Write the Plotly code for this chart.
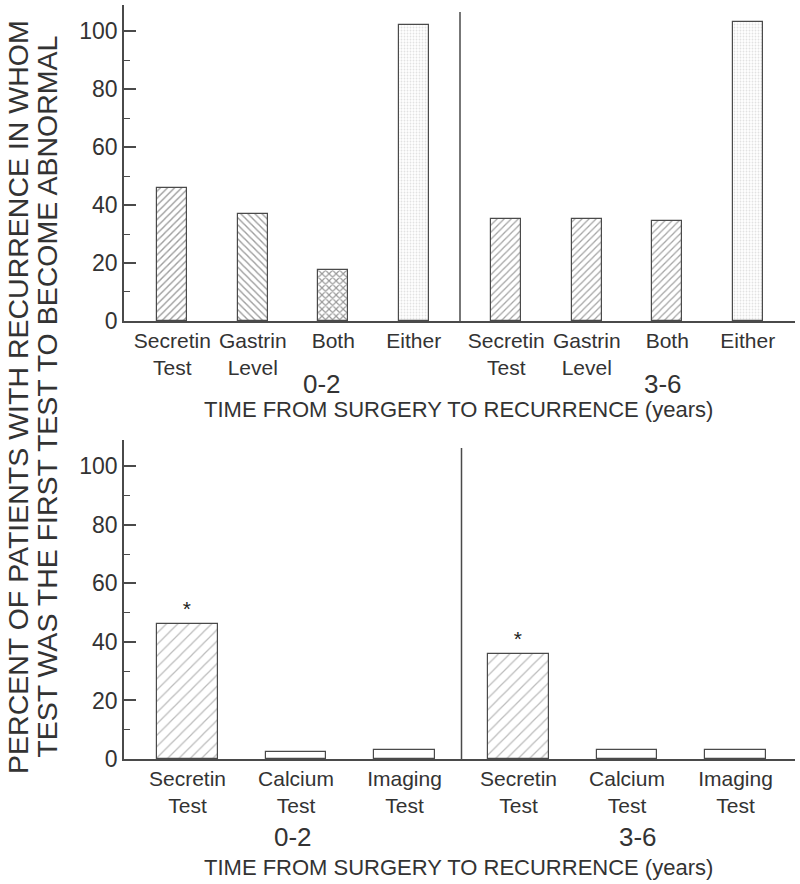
import plotly.graph_objects as go

# ---- data ----
groups = ["0-2", "3-6"]

top_categories = ["Secretin<br>Test", "Gastrin<br>Level", "Both", "Either"]
top_0_2 = [46, 37, 17.5, 102]
top_3_6 = [35, 35, 34.5, 103]
top_patterns = ["/", "\\", "x", "."]
top_patterns_3_6 = ["/", "/", "/", "."]

bottom_categories = ["Secretin<br>Test", "Calcium<br>Test", "Imaging<br>Test"]
bottom_0_2 = [46, 2.5, 3]
bottom_3_6 = [36, 3, 3]
bottom_marks = ["*", "", ""]
bottom_patterns = ["/", "", ""]

X_TITLE = "TIME FROM SURGERY TO RECURRENCE (years)"
Y_TITLE_1 = "PERCENT OF PATIENTS WITH RECURRENCE IN WHOM"
Y_TITLE_2 = "TEST WAS THE FIRST TEST TO BECOME ABNORMAL"

FONT = "Liberation Sans, Arial, sans-serif"
INK = "#333333"
LINE = "#4a4a4a"


def positions(n, gap):
    left = [i for i in range(n)]
    right = [i + n + gap for i in range(n)]
    return left, right


top_left_x, top_right_x = positions(len(top_categories), 0.15)
bot_left_x, bot_right_x = positions(len(bottom_categories), 0.05)

fig = go.Figure()

# top panel
fig.add_trace(go.Bar(
    x=top_left_x + top_right_x,
    y=top_0_2 + top_3_6,
    width=0.37,
    marker=dict(
        color="white",
        line=dict(color=LINE, width=1.2),
        pattern=dict(
            shape=top_patterns + top_patterns_3_6,
            fgcolor=["#3a3a3a", "#3a3a3a", "#333", "#c4c4c4"] + ["#4a4a4a", "#4a4a4a", "#4a4a4a", "#c4c4c4"],
            size=[5, 5, 5, 3, 5, 5, 5, 3],
            solidity=[0.28, 0.28, 0.42, 0.3, 0.25, 0.25, 0.25, 0.3],
        ),
    ),
    showlegend=False,
    xaxis="x", yaxis="y",
))

# bottom panel
fig.add_trace(go.Bar(
    x=bot_left_x + bot_right_x,
    y=bottom_0_2 + bottom_3_6,
    width=0.56,
    text=bottom_marks + bottom_marks,
    textposition="outside",
    textfont=dict(size=21, color="#222", family=FONT),
    cliponaxis=False,
    marker=dict(
        color="white",
        line=dict(color=LINE, width=1.2),
        pattern=dict(
            shape=bottom_patterns + bottom_patterns,
            fgcolor="#777",
            size=8,
            solidity=0.15,
        ),
    ),
    showlegend=False,
    xaxis="x2", yaxis="y2",
))

yaxis_style = dict(
    range=[0, 109],
    automargin=False,
    showline=True, linecolor=LINE, linewidth=1.5,
    ticks="inside", ticklen=12, tickwidth=1.5, tickcolor=LINE,
    dtick=20,
    minor=dict(ticks="inside", ticklen=6, tickwidth=1.2, tickcolor=LINE, dtick=10),
    showgrid=False, zeroline=False,
    tickfont=dict(size=23, color=INK, family=FONT),
)
xaxis_style = dict(
    automargin=False,
    showline=True, linecolor=LINE, linewidth=1.5,
    ticks="", showgrid=False, zeroline=False,
    tickfont=dict(size=21, color=INK, family=FONT),
)

fig.update_layout(
    width=800, height=884,
    margin=dict(l=0, r=0, t=0, b=0, pad=0),
    plot_bgcolor="white", paper_bgcolor="white",
    bargap=0,
    xaxis=dict(xaxis_style, domain=[0.155, 0.994], range=[-0.6, 7.74],
               tickvals=top_left_x + top_right_x,
               ticktext=top_categories + top_categories, anchor="y"),
    yaxis=dict(yaxis_style, domain=[0.6369, 0.9943], anchor="x"),
    xaxis2=dict(xaxis_style, domain=[0.155, 0.994], range=[-0.585, 5.6],
                tickvals=bot_left_x + bot_right_x,
                ticktext=bottom_categories + bottom_categories, anchor="y2"),
    yaxis2=dict(yaxis_style, domain=[0.1414, 0.5023], anchor="x2"),
)

# dividers between the two time groups
top_mid = (top_left_x[-1] + top_right_x[0]) / 2
bot_mid = (bot_left_x[-1] + bot_right_x[0]) / 2
fig.add_shape(type="line", xref="x", yref="y domain", x0=top_mid, x1=top_mid,
              y0=0, y1=0.978, line=dict(color=LINE, width=1.5))
fig.add_shape(type="line", xref="x2", yref="y2 domain", x0=bot_mid, x1=bot_mid,
              y0=0, y1=0.975, line=dict(color=LINE, width=1.5))

# group labels and x titles
group_labels = [
    (groups[0], 0.4025, 0.5656), (groups[1], 0.829, 0.5656),
    (groups[0], 0.366, 0.0532), (groups[1], 0.7975, 0.0532),
]
for txt, gx, gy in group_labels:
    fig.add_annotation(text=txt, x=gx, y=gy, xref="paper", yref="paper",
                       xanchor="center", yanchor="middle", showarrow=False,
                       font=dict(size=26, color=INK, family=FONT))

for ty in [0.5373, 0.0192]:
    fig.add_annotation(text=X_TITLE, x=0.5725, y=ty, xref="paper", yref="paper",
                       xanchor="center", yanchor="middle", showarrow=False,
                       font=dict(size=22, color=INK, family=FONT))

# shared y title, two lines
for txt, tx in [(Y_TITLE_1, 0.0225), (Y_TITLE_2, 0.0585)]:
    fig.add_annotation(text=txt, x=tx, y=0.551, xref="paper", yref="paper",
                       xanchor="center", yanchor="middle",
                       textangle=-90, showarrow=False,
                       font=dict(size=28.5, color=INK, family=FONT))

# drop the browser's default body margin so the figure fills the window
fig.write_html("out.html", config={"displayModeBar": False},
               post_script="document.body.style.margin='0';")
